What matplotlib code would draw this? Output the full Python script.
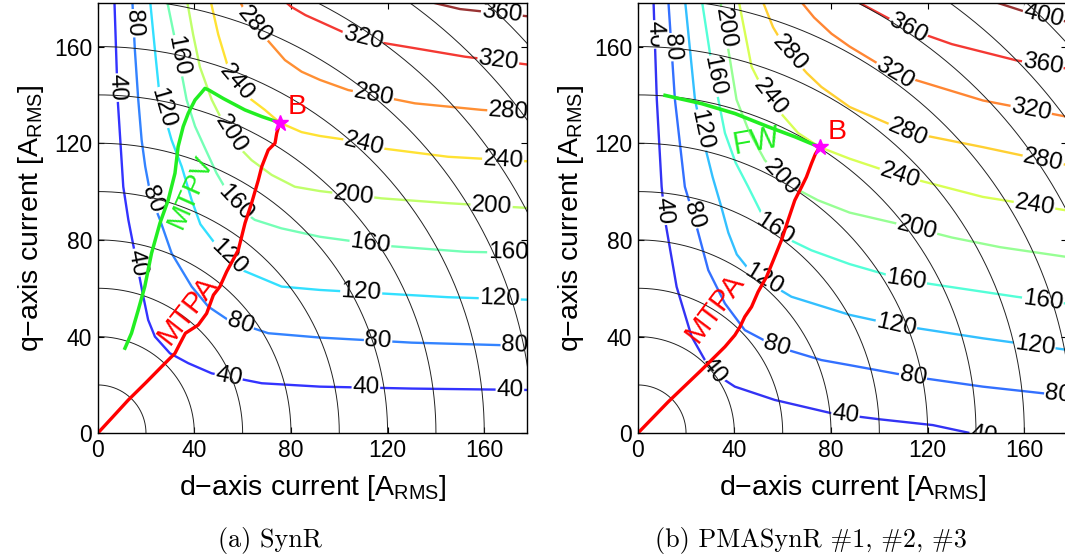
import numpy as np
import matplotlib
matplotlib.use('Agg')
import matplotlib.pyplot as plt

plt.rcParams['font.family'] = ['Liberation Sans', 'DejaVu Sans']
plt.rcParams['mathtext.fontset'] = 'custom'
plt.rcParams['mathtext.rm'] = 'Liberation Sans'
plt.rcParams['mathtext.it'] = 'Liberation Sans:italic'

# torque contour lines, points are (id, iq) in A_RMS
# SynR
syn_40 = [(6.9, 180), (8.3, 138), (10.6, 102), (12.7, 88.3), (15.4, 74.5), (18.9, 56.5), (20.9, 46.9),
          (23.7, 40), (29.9, 33.1), (37.5, 29), (47.2, 24.8), (67.9, 20.7), (92, 19.3), (130, 18.5), (180, 17.9)]
syn_80 = [(14.3, 180), (15.4, 158.6), (16.8, 138), (18.2, 121.3), (19.7, 110.3), (22, 98), (25.8, 88.3),
          (30.6, 74.5), (38.9, 60.7), (45.8, 52.4), (54, 46.9), (70.6, 41.4), (92, 39.6), (130, 37.5), (180, 36.1)]
syn_120 = [(21.6, 180), (23.7, 158.6), (25.8, 138), (30.6, 121.3), (34.8, 110.3), (38.9, 96.5), (42.5, 86.5),
           (48.5, 78.6), (59.6, 67.6), (76.1, 60.7), (92, 59.3), (145, 56.3), (180, 55.2)]
syn_160 = [(28.5, 180), (33, 158), (36.8, 138), (40.3, 127), (44.4, 118), (49.2, 107.6), (55.4, 97),
           (60, 92), (65, 88.3), (76, 84.8), (92, 81.3), (120, 77.5), (152, 75.1), (180, 74.5)]
syn_200 = [(36.8, 180), (39.5, 165), (42.3, 151.6), (47.2, 138), (52.5, 127.5), (58.2, 118.6), (63.7, 113),
           (72, 106.9), (81.6, 102), (92, 100.2), (117.5, 97.2), (145, 95.2), (180, 93.1)]
syn_240 = [(46.5, 180), (49.9, 165), (53.5, 153), (57.5, 145), (63, 138.5), (69.2, 133.8), (75.4, 128.5),
           (84.4, 124.6), (92, 123), (103.7, 121.3), (117.5, 117.9), (145, 114.4), (180, 112.4)]
syn_280 = [(58.2, 180), (62, 172.5), (67.8, 165.5), (77.5, 154.4), (84.4, 149.6), (92, 146.2),
           (103.7, 142), (131.3, 136.5), (158.9, 133.8), (180, 132.3)]
syn_320 = [(76, 180), (80, 176.5), (86, 173), (92, 170.3), (103.7, 165), (117.5, 161.6), (131.3, 159.3),
           (152, 155.8), (180, 152.3)]
syn_360 = [(131, 180), (150, 175.5), (180, 172.3)]

# PMASynR
pma_40 = [(6.5, 180), (7.9, 138), (9.9, 102), (11.3, 88.2), (16.1, 60.6), (22.3, 40), (27.8, 30.3),
          (33, 24), (40.2, 19.3), (56.7, 13.8), (80.2, 8.3), (100, 5.8), (122.1, 3.4), (138, 0), (150, -2)]
pma_80 = [(12.6, 180), (15.4, 138), (19.5, 102), (23.7, 88), (29.2, 67.5), (36.1, 53.7), (44.3, 42.7),
          (57, 36), (76, 30.3), (87.7, 28.2), (113.9, 23.4), (142.8, 19.3), (180, 15.2)]
pma_120 = [(19.5, 180), (23.7, 138), (27.5, 120), (31, 106), (34.5, 94), (37.5, 83), (41, 74), (47, 66.5),
           (63.6, 56.5), (87.7, 49), (107, 44.8), (142.8, 39.3), (180, 34.2)]
pma_160 = [(26.4, 180), (31, 150), (36.1, 124.2), (40.5, 112), (45.7, 102), (51.2, 91), (55.4, 85),
           (63, 80), (71.9, 75.7), (87.7, 70), (111, 63.3), (156.6, 56.5), (180, 53.3)]
pma_200 = [(34, 180), (40.9, 138), (46, 125), (52.6, 113), (62, 103), (74.6, 96.4), (87.7, 91.3),
           (108.4, 86.5), (130, 81), (150, 77), (180, 72.6)]
pma_240 = [(41.6, 180), (47.1, 151.7), (51, 144), (55, 139), (60, 131.5), (66.4, 124.2), (75.3, 118.4),
           (87.7, 113.6), (108.4, 106.7), (142.8, 97.8), (180, 91.8)]
pma_280 = [(51.2, 180), (56, 168), (62, 158), (70, 149), (76, 143.3), (87.7, 135), (111.8, 124.6),
           (142.8, 118.4), (180, 110.5)]
pma_320 = [(66.4, 180), (73, 172), (80.2, 165.3), (87.7, 160), (106.3, 148.8), (142.8, 137.7), (180, 130.5)]
pma_360 = [(86, 180), (91.9, 178), (111.8, 167.4), (130, 161), (156.6, 154.3), (180, 150.5)]
pma_400 = [(143, 180), (160, 174.5), (180, 169.7)]

syn_levels = [40, 80, 120, 160, 200, 240, 280, 320, 360]
pma_levels = [40, 80, 120, 160, 200, 240, 280, 320, 360, 400]

# operating trajectories
syn_mtpa = [(0, 0), (6, 6.5), (12.7, 13.8), (20, 21), (26.5, 27.6), (32, 33.1), (34, 37), (36.3, 41.4),
            (41.6, 44.8), (45.1, 49.6), (47.9, 57.2), (50.6, 60.7), (53.4, 66.9), (58.2, 75.8), (61, 87),
            (63.7, 95.2), (66.5, 104.8), (67.9, 110.3), (70.6, 117.2), (73.4, 120), (74.1, 124.1), (75.4, 128.5)]
syn_mtpv = [(75.4, 128.5), (68, 131), (60.9, 133.8), (52, 138.5), (46, 142), (44.4, 142.7), (43, 141),
            (40.3, 137.9), (37.5, 132.4), (35.4, 126.9), (33.3, 118.6), (32, 107.6), (29.2, 96.5),
            (25.8, 87), (22.3, 74.5), (19.5, 60.7), (16.8, 51), (14, 41.4), (11.3, 35.2)]
pma_mtpa = [(0, 0), (12.6, 13), (26.4, 26.2), (36.1, 35.8), (40.2, 40.6), (42.3, 44), (44.3, 48.2),
            (47.1, 52.3), (49.8, 58.5), (53.3, 64.7), (56.7, 73), (59.5, 79.9), (62.2, 88.1), (65, 96.4),
            (67.8, 101.9), (69.8, 106), (71.9, 111.6), (73.5, 115.5), (75.3, 118.4)]
pma_fw = [(11.3, 139.8), (26.4, 136.4), (40.2, 132.3), (54, 126.8), (65, 122.7), (75.3, 118.4)]

# current limit circles [A_RMS]
radii = [20, 40, 60, 80, 100, 120, 140, 160, 180, 200, 220, 240]

# where the contour values are written
syn_spots = {
    40: [(8, 143), (14.7, 70.3), (54, 22.3), (111, 18.6), (170.6, 17.2)],
    80: [(14, 169.6), (22.3, 96.5), (58.9, 44.8), (116, 37.2), (172.6, 35.8)],
    120: [(28, 135), (52.7, 71.7), (109, 57.2), (166.4, 55.2)],
    160: [(31.3, 155.8), (56.1, 94.5), (112.7, 77.2), (169.9, 74.5)],
    200: [(53.4, 122.7), (105.8, 98.6), (163, 93.8)],
    240: [(57.5, 144.8), (109.9, 118.6), (167.8, 113)],
    280: [(63, 167.6), (114, 139.3), (169.9, 133)],
    320: [(109.2, 161.4), (165.7, 153.1)],
    360: [(167.2, 173)],
}
pma_spots = {
    40: [(6.8, 165), (10.6, 92), (31.3, 25.5), (86, 7.8), (143, -1.5)],
    80: [(13.3, 159.7), (21.6, 90), (57.4, 35.8), (113.9, 23.4), (174, 15.5)],
    120: [(25.7, 125.3), (52.6, 64.7), (107, 44.8), (164.2, 35.8)],
    160: [(29.9, 147.4), (55.4, 82.6), (111.1, 63.3), (167.6, 54.4)],
    200: [(34, 167.4), (59.5, 106), (115.3, 84)],
    240: [(54.7, 139.1), (108.4, 106.7), (164.2, 94.3)],
    280: [(60.9, 155.6), (111.8, 124.6), (167.6, 112.2)],
    320: [(106.3, 148.8), (162.8, 133.6)],
    360: [(111.8, 167.4), (167.6, 152.2)],
    400: [(167.6, 171.5)],
}


def level_color(v, vmax):
    # jet, washed out a little
    c = np.array(plt.cm.jet(v / vmax)[:3])
    return tuple(0.8 * c + 0.2)


def label_line(ax, pts, text, spots):
    disp = ax.transData.transform(np.asarray(pts, float))
    for s in spots:
        p = ax.transData.transform(s)
        best = None
        for a, b in zip(disp[:-1], disp[1:]):
            ab = b - a
            t = np.clip(np.dot(p - a, ab) / np.dot(ab, ab), 0, 1)
            c = a + t * ab
            dist = np.hypot(*(p - c))
            if best is None or dist < best[0]:
                best = (dist, c, ab)
        _, c, ab = best
        ang = np.degrees(np.arctan2(ab[1], ab[0]))
        x, y = ax.transData.inverted().transform(c)
        ax.text(x, y, text, rotation=ang, rotation_mode='anchor', ha='center', va='center',
                fontsize=17.5, zorder=3, clip_on=True,
                bbox=dict(fc='white', ec='none', pad=0.6))


def draw_panel(ax, lines, levels, vmax, spots):
    ax.set_xlim(0, 177.8)
    ax.set_ylim(0, 177.9)
    th = np.linspace(0, np.pi / 2, 300)
    for r in radii:
        ax.plot(r * np.cos(th), r * np.sin(th), color='#222222', lw=0.7, zorder=4)
    for lv, pts in zip(levels, lines):
        pts = np.asarray(pts, float)
        ax.plot(pts[:, 0], pts[:, 1], color=level_color(lv, vmax), lw=1.7, zorder=2,
                solid_capstyle='butt', solid_joinstyle='round')
        label_line(ax, pts, str(lv), spots[lv])
    ax.set_xticks([0, 40, 80, 120, 160])
    ax.set_yticks([0, 40, 80, 120, 160])
    ax.tick_params(direction='in', top=True, right=True, length=4, width=0.8,
                   labelsize=16.5, pad=4)
    for sp in ax.spines.values():
        sp.set_linewidth(1.0)
        sp.set_zorder(6)
    ax.set_xlabel('d\u2212axis current [A$_{\\mathrm{RMS}}$]', fontsize=20.5)
    ax.set_ylabel('q\u2212axis current [A$_{\\mathrm{RMS}}$]', fontsize=20.5)
    ax.xaxis.set_label_coords(0.5, -0.093)
    ax.yaxis.set_label_coords(-0.12, 0.5)


fig = plt.figure(figsize=(10.65, 5.56), dpi=100)
ax1 = fig.add_axes([0.0917, 0.2207, 0.4034, 0.7734])
ax2 = fig.add_axes([0.5988, 0.2207, 0.4034, 0.7734])

draw_panel(ax1, [syn_40, syn_80, syn_120, syn_160, syn_200, syn_240, syn_280, syn_320, syn_360],
           syn_levels, 355, syn_spots)
draw_panel(ax2, [pma_40, pma_80, pma_120, pma_160, pma_200, pma_240, pma_280, pma_320, pma_360, pma_400],
           pma_levels, 400, pma_spots)

# SynR: MTPA up to B, then MTPV
m = np.asarray(syn_mtpa)
ax1.plot(m[:, 0], m[:, 1], color='red', lw=2.4, zorder=5)
v = np.asarray(syn_mtpv)
ax1.plot(v[:, 0], v[:, 1], color='#22ee22', lw=2.5, zorder=5)
ax1.plot(*syn_mtpa[-1], marker='*', color='magenta', ms=12, zorder=7)
ax1.text(82.5, 135, 'B', color='red', fontsize=20.5, ha='center', va='center', zorder=7)
ax1.text(38.5, 100, 'MTPV', color='#22ee22', fontsize=20, rotation=66, ha='center', va='center', zorder=7)
ax1.text(37, 51, 'MTPA', color='red', fontsize=21, rotation=52, ha='center', va='center', zorder=7)

# PMASynR: MTPA up to B, then field weakening
m = np.asarray(pma_mtpa)
ax2.plot(m[:, 0], m[:, 1], color='red', lw=2.4, zorder=5)
f = np.asarray(pma_fw)
ax2.plot(f[:, 0], f[:, 1], color='#22ee22', lw=2.6, zorder=5)
ax2.plot(*pma_mtpa[-1], marker='*', color='magenta', ms=12, zorder=7)
ax2.text(82.5, 124.5, 'B', color='red', fontsize=20.5, ha='center', va='center', zorder=7)
ax2.text(49, 120.5, 'FW', color='#22ee22', fontsize=22, rotation=10, ha='center', va='center', zorder=7)
ax2.text(32, 52, 'MTPA', color='red', fontsize=21, rotation=53, ha='center', va='center', zorder=7)

fig.text(270 / 1065, 1 - 541 / 556, '(a) SynR', family='cmr10', fontsize=18.8, ha='center', va='center')
fig.text(811 / 1065, 1 - 541 / 556, '(b) PMASynR #1, #2, #3', family='cmr10', fontsize=18.8,
         ha='center', va='center')

fig.savefig('out.png', dpi=100)
